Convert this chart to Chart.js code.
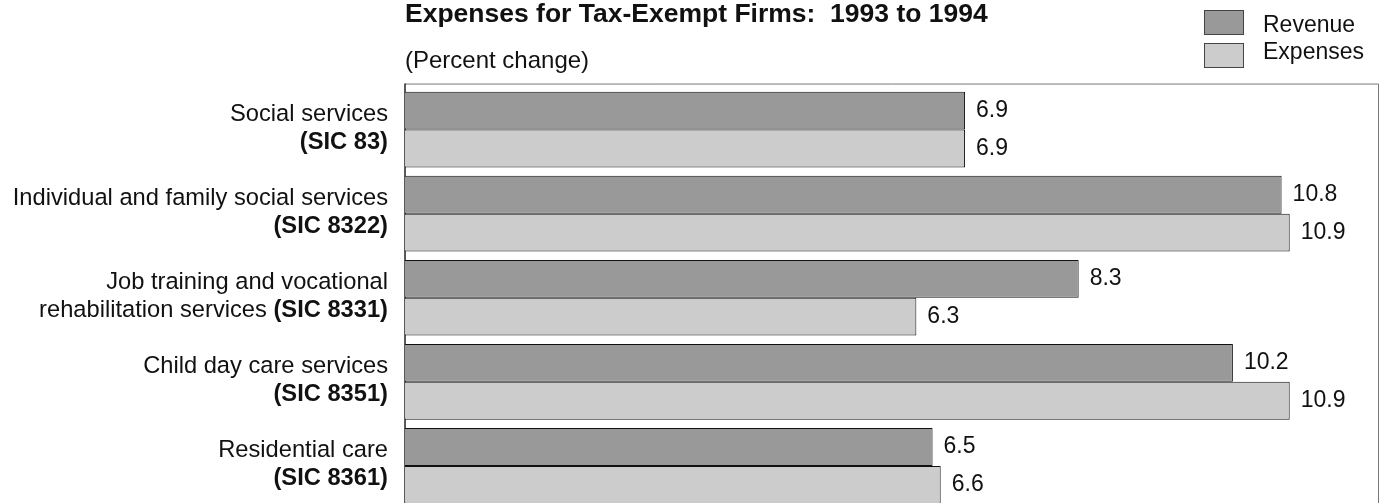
<!DOCTYPE html>
<html>
<head>
<meta charset="utf-8">
<script src="https://cdn.jsdelivr.net/npm/chart.js@4.4.1/dist/chart.umd.min.js"></script>
<style>
  html, body { margin: 0; padding: 0; background: #fff; overflow: hidden; }
  #wrap { position: relative; width: 1381px; height: 508px; }
</style>
</head>
<body>
<div id="wrap"><canvas id="grafico"></canvas></div>
<script>
const categories = [
    ['Social services', '(SIC 83)'],
    ['Individual and family social services', '(SIC 8322)'],
    ['Job training and vocational', 'rehabilitation services (SIC 8331)'],
    ['Child day care services', '(SIC 8351)'],
    ['Residential care', '(SIC 8361)']
];
const revenue = [6.9, 10.8, 8.3, 10.2, 6.5];
const expenses = [6.9, 10.9, 6.3, 10.9, 6.6];
const seriesNames = ['Revenue', 'Expenses'];

const FONT = "'Liberation Sans', Arial, sans-serif";

// frame round the plot, drawn under the bars
const framePlugin = {
    id: 'frame',
    beforeDatasetsDraw(chart) {
        const { ctx, chartArea } = chart;
        const top = chartArea.top - 4;
        const left = chartArea.left;
        const right = chartArea.right - 1;
        ctx.save();
        ctx.strokeStyle = '#777';
        ctx.lineWidth = 1;
        ctx.beginPath();
        ctx.moveTo(left, top + 0.5);
        ctx.lineTo(right + 0.5, top + 0.5);
        ctx.lineTo(right + 0.5, chartArea.bottom);
        ctx.stroke();
        ctx.strokeStyle = '#222';
        ctx.lineWidth = 1.5;
        ctx.beginPath();
        ctx.moveTo(left, top);
        ctx.lineTo(left, chartArea.bottom);
        ctx.stroke();
        ctx.restore();
    }
};

// category names to the left, the SIC code part in bold
const categoryLabels = {
    id: 'categoryLabels',
    afterDraw(chart) {
        const { ctx, chartArea } = chart;
        const yScale = chart.scales.y;
        const xRight = chartArea.left - 17;
        ctx.save();
        ctx.textBaseline = 'middle';
        ctx.textAlign = 'left';
        ctx.fillStyle = '#111';
        categories.forEach((lines, i) => {
            const yc = yScale.getPixelForValue(i);
            lines.forEach((line, j) => {
                const y = yc - 1 + (j - (lines.length - 1) / 2) * 28;
                const parts = line.split(/(\(SIC \d+\))/).filter(p => p !== '');
                let x = xRight;
                for (let k = parts.length - 1; k >= 0; k--) {
                    const bold = parts[k].startsWith('(SIC');
                    ctx.font = (bold ? 'bold ' : '') + '23.7px ' + FONT;
                    x -= ctx.measureText(parts[k]).width;
                    ctx.fillText(parts[k], x, y);
                }
            });
        });
        ctx.restore();
    }
};

// value printed at the end of each bar
const valueLabels = {
    id: 'valueLabels',
    afterDatasetsDraw(chart) {
        const { ctx } = chart;
        ctx.save();
        ctx.font = '23px ' + FONT;
        ctx.fillStyle = '#111';
        ctx.textAlign = 'left';
        ctx.textBaseline = 'middle';
        chart.data.datasets.forEach((ds, d) => {
            chart.getDatasetMeta(d).data.forEach((bar, i) => {
                ctx.fillText(ds.data[i].toFixed(1), bar.x + 11, bar.y);
            });
        });
        ctx.restore();
    }
};

// stacked legend in the upper right corner
const boxLegend = {
    id: 'boxLegend',
    afterDraw(chart) {
        const { ctx } = chart;
        const x0 = chart.width - 177;
        ctx.save();
        ctx.font = '23px ' + FONT;
        ctx.textAlign = 'left';
        ctx.textBaseline = 'middle';
        chart.data.datasets.forEach((ds, d) => {
            const y0 = 10 + d * 33;
            ctx.fillStyle = ds.backgroundColor;
            ctx.fillRect(x0, y0, 40, 25);
            ctx.strokeStyle = '#444';
            ctx.lineWidth = 1;
            ctx.strokeRect(x0 + 0.5, y0 + 0.5, 39, 24);
            ctx.fillStyle = '#111';
            ctx.fillText(ds.label, x0 + 59, 26 + d * 27);
        });
        ctx.restore();
    }
};

document.addEventListener('DOMContentLoaded', function() {
    const ctx = document.getElementById('grafico').getContext('2d');

    new Chart(ctx, {
        type: 'bar',
        data: {
            labels: categories,
            datasets: [
                {
                    label: seriesNames[0],
                    data: revenue,
                    backgroundColor: '#999999',
                    borderColor: '#111',
                    borderWidth: 1,
                    borderSkipped: 'start'
                },
                {
                    label: seriesNames[1],
                    data: expenses,
                    backgroundColor: '#cccccc',
                    borderColor: '#111',
                    borderWidth: 1,
                    borderSkipped: 'start'
                }
            ]
        },
        options: {
            indexAxis: 'y',
            responsive: true,
            maintainAspectRatio: false,
            animation: false,
            layout: { padding: { left: 405, right: 2, top: 0, bottom: 0 } },
            datasets: {
                bar: { categoryPercentage: 0.9, barPercentage: 1.0 }
            },
            scales: {
                x: { display: false, min: 0, max: 12 },
                y: {
                    display: true,
                    ticks: { display: false },
                    grid: { display: false },
                    border: { display: false },
                    afterFit: function(scale) { scale.width = 0; }
                }
            },
            plugins: {
                legend: { display: false },
                tooltip: { enabled: false },
                title: {
                    display: true,
                    text: 'Expenses for Tax-Exempt Firms:  1993 to 1994',
                    align: 'start',
                    color: '#111',
                    font: { family: FONT, size: 26.5, weight: 'bold', lineHeight: 1.1 },
                    padding: { top: 0, bottom: 9 }
                },
                subtitle: {
                    display: true,
                    text: '(Percent change)',
                    align: 'start',
                    color: '#111',
                    font: { family: FONT, size: 24, lineHeight: 1.1 },
                    padding: { top: 10, bottom: 13 }
                }
            }
        },
        plugins: [framePlugin, categoryLabels, valueLabels, boxLegend]
    });
});
</script>
</body>
</html>
